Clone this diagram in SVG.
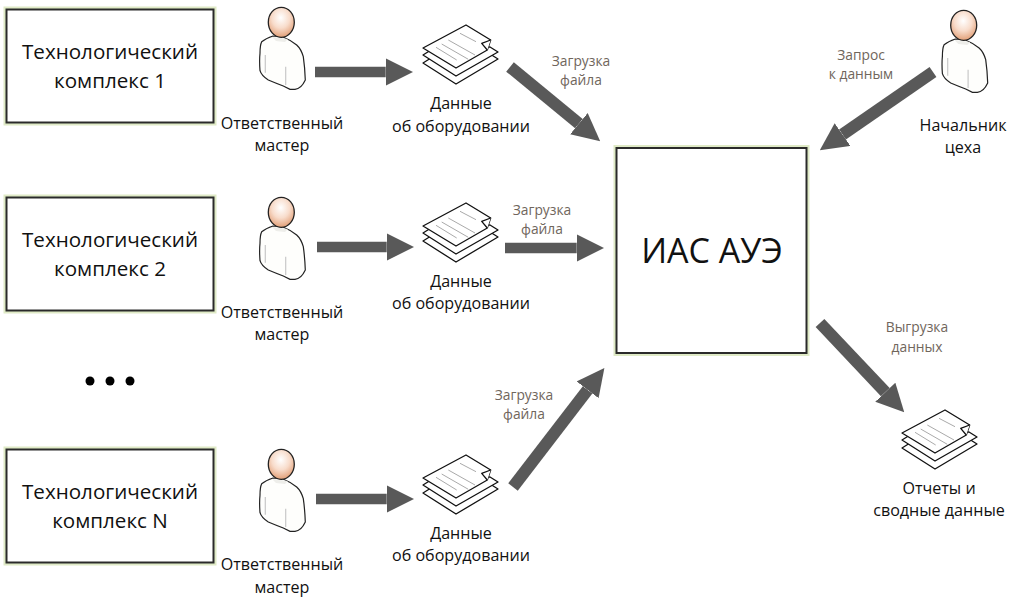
<svg xmlns="http://www.w3.org/2000/svg" width="1021" height="607" viewBox="0 0 1021 607">
<style>
text{font-family:"Open Sans","Noto Sans","DejaVu Sans",sans-serif;text-anchor:middle;fill:#111}
.box{fill:#fff;stroke:#2a2a2a;stroke-width:2}
.glow{fill:none;stroke:#dfeac6;stroke-width:6}
.t{font-size:20.6px}
.l{font-size:16.1px}
.c{font-size:13.8px;fill:#70665c}
.a{stroke:#595959;stroke-width:10.5;fill:none;marker-end:url(#h)}
.d{stroke:#595959;stroke-width:12;fill:none;marker-end:url(#k)}
.line{fill:#fff;stroke:#111;stroke-width:1.3;stroke-linejoin:round}
</style>
<defs>
<marker id="h" markerUnits="strokeWidth" markerWidth="2.6" markerHeight="2.6" refX="0" refY="1.3" orient="auto" viewBox="0 0 2.6 2.6"><path d="M0 0L2.6 1.3L0 2.6Z" fill="#595959"/></marker>
<marker id="k" markerUnits="strokeWidth" markerWidth="2.3" markerHeight="2.3" refX="0" refY="1.150" orient="auto" viewBox="0 0 2.3 2.3"><path d="M0 0L2.3 1.150L0 2.3Z" fill="#595959"/></marker>
<radialGradient id="skin" cx="0.48" cy="0.35" r="0.68"><stop offset="0" stop-color="#fff"/><stop offset="0.5" stop-color="#f8dccb"/><stop offset="1" stop-color="#e09a70"/></radialGradient>
<g id="person">
<path d="M261.700 41.700C265 39 270 37 273 36L283 37C288 39 293 42 296.700 45C300 48 302 52 303.300 56.700C304.500 65 305 72 305.300 80C303 85 299 89 295 89.300L290 89.300L283.300 86C278 84 273 82 268.300 80C265 78 261 74 260 70.700C259.500 64 259.500 58 260 53.300C260 48 260.500 44 261.700 41.700Z" fill="#fefefc" stroke="#222" stroke-width="1.2"/>
<path d="M272 37L288 39L285 42L276 41Z" fill="#eeeeea"/>
<path d="M265.300 55V72.700M285.700 66.700V85" fill="none" stroke="#c8c8c8" stroke-width="1.2"/>
<ellipse cx="281.300" cy="22.300" rx="13" ry="15" fill="url(#skin)" stroke="#222" stroke-width="1.3"/>
</g>
<g id="doc">
<path class="line" d="M423 63L456 84L498 59L490 54L431 58Z"/>
<path class="line" d="M423 55L456 76L498 52L490 47L431 50Z"/>
<path class="line" d="M423 48L466 25L490.700 40L487.300 50L456 68Z"/>
<path class="line" d="M490.700 40L481.700 43.300L487.300 50"/>
<path d="M460 33.300L476 41.700M448.300 40L475 55M441.700 44L468.300 59.300M436 47.300L456.700 60" fill="none" stroke="#aaa" stroke-width="1"/>
</g>
</defs>
<g id="connectors">
<path class="a" d="M315 72H385.700"/>
<path class="a" d="M317 247H386.700"/>
<path class="a" d="M316 499H386.700"/>
<path class="d" d="M510 67L578.900 123.700"/>
<path class="a" d="M505 248H576.700"/>
<path class="d" d="M513 487L587.600 389.800"/>
<path class="d" d="M933 72L842.500 134.500"/>
<path class="d" d="M820 323L885.300 392.200"/>
</g>
<g id="box1"><rect class="glow" x="6.500" y="9.500" width="207" height="113"/><rect class="box" x="6.500" y="9.500" width="207" height="113"/><text class="t" x="110" y="59">Технологический</text><text class="t" x="110" y="88">комплекс 1</text></g>
<g id="box2"><rect class="glow" x="6.500" y="197.500" width="207" height="113"/><rect class="box" x="6.500" y="197.500" width="207" height="113"/><text class="t" x="110" y="247">Технологический</text><text class="t" x="110" y="276">комплекс 2</text></g>
<g id="boxN"><rect class="glow" x="6.500" y="449.500" width="207" height="113"/><rect class="box" x="6.500" y="449.500" width="207" height="113"/><text class="t" x="110" y="499">Технологический</text><text class="t" x="110" y="528">комплекс N</text></g>
<g id="dots"><circle cx="90" cy="381" r="4.500" fill="#000"/><circle cx="110" cy="381" r="4.500" fill="#000"/><circle cx="130" cy="381" r="4.500" fill="#000"/></g>
<g id="person1"><use href="#person"/><text class="l" x="282" y="129">Ответственный</text><text class="l" x="282" y="151">мастер</text></g>
<g id="person2"><use href="#person" y="190"/><text class="l" x="282" y="318">Ответственный</text><text class="l" x="282" y="340">мастер</text></g>
<g id="personN"><use href="#person" y="442"/><text class="l" x="282" y="570">Ответственный</text><text class="l" x="282" y="592.500">мастер</text></g>
<g id="boss"><use href="#person" x="682.400" y="3"/><text class="l" x="963" y="131">Начальник</text><text class="l" x="963" y="153">цеха</text></g>
<g id="doc1"><use href="#doc"/><text class="l" x="461" y="109">Данные</text><text class="l" x="461" y="132">об оборудовании</text></g>
<g id="doc2"><use href="#doc" y="178"/><text class="l" x="461" y="287">Данные</text><text class="l" x="461" y="309">об оборудовании</text></g>
<g id="docN"><use href="#doc" y="430"/><text class="l" x="461" y="539">Данные</text><text class="l" x="461" y="561">об оборудовании</text></g>
<g id="report"><use href="#doc" x="479" y="385"/><text class="l" x="939" y="493.500">Отчеты и</text><text class="l" x="939" y="515.500">сводные данные</text></g>
<g id="ias"><rect class="glow" x="616.500" y="148" width="190" height="205"/><rect class="box" x="616.500" y="148" width="190" height="205"/><text x="712" y="263" style="font-size:34px">ИАС АУЭ</text></g>
<g id="edge-labels">
<text class="c" x="581" y="66">Загрузка</text><text class="c" x="581" y="85">файла</text>
<text class="c" x="542" y="215">Загрузка</text><text class="c" x="542" y="234">файла</text>
<text class="c" x="524" y="400">Загрузка</text><text class="c" x="524" y="419">файла</text>
<text class="c" x="861" y="60">Запрос</text><text class="c" x="861" y="79">к данным</text>
<text class="c" x="917" y="332">Выгрузка</text><text class="c" x="917" y="352">данных</text>
</g>
</svg>
